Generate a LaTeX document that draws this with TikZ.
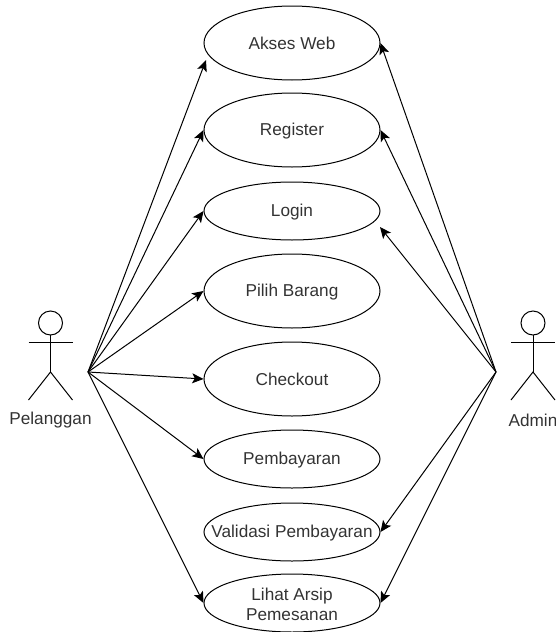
\documentclass[tikz,border=0pt]{standalone}
\usepackage{fontspec}
\setmainfont{Liberation Sans}
\usetikzlibrary{arrows.meta,shapes.geometric,calc}
\definecolor{txt}{HTML}{333333}
\tikzset{
  x=0.75pt,y=-0.75pt,
  usecase/.style={draw=black,ellipse,line width=0.75pt,minimum width=132pt,inner sep=0pt},
  uctext/.style={inner sep=0pt,align=center,font=\fontsize{12.9}{15}\selectfont,text=txt},
  dropped/.style={yshift=-1.1pt},
  tall/.style={minimum height=55.5pt},
  flat/.style={minimum height=43.5pt},
  link/.style={draw=black,line width=0.75pt,-{Stealth[length=8.5pt,width=7.5pt,inset=2pt]}},
  actorline/.style={draw=black,line width=0.75pt},
  actorname/.style={font=\fontsize{12.9}{15}\selectfont,text=txt,inner sep=0pt}
}
\begin{document}
\begin{tikzpicture}
\useasboundingbox (0,0) rectangle (556,632);
\node[usecase,tall] (web) at (292,43) {};
\node[uctext] (webt) at (web) {Akses Web};
\node[usecase,tall] (reg) at (292,130) {};
\node[uctext,dropped] (regt) at (reg) {Register};
\node[usecase,flat] (log) at (292,211) {};
\node[uctext,dropped] (logt) at (log) {Login};
\node[usecase,tall] (pil) at (292,291) {};
\node[uctext,dropped] (pilt) at (pil) {Pilih Barang};
\node[usecase,tall] (chk) at (292,379) {};
\node[uctext] (chkt) at (chk) {Checkout};
\node[usecase,flat] (pem) at (292,459) {};
\node[uctext,dropped] (pemt) at (pem) {Pembayaran};
\node[usecase,flat] (val) at (292,532) {};
\node[uctext,dropped] (valt) at (val) {Validasi Pembayaran};
\node[usecase,flat] (arc) at (292,603) {};
\node[uctext,dropped] (arct) at (arc) {Lihat Arsip\\Pemesanan};
% actors
\coordinate (pelhip) at (50.5,372);
\coordinate (admhip) at (533,372);
\foreach \c in {pelhip,admhip}{
  \draw[actorline] ($(\c)+(0,-49)$) circle (12);
  \draw[actorline] ($(\c)+(0,-37)$) -- (\c);
  \draw[actorline] ($(\c)+(-22,-30)$) -- ($(\c)+(22,-30)$);
  \draw[actorline] ($(\c)+(-22,28)$) -- (\c) -- ($(\c)+(22,28)$);
}
\node[actorname] (pelname) at (50.5,420) {Pelanggan};
\node[actorname] (admname) at (533,420) {Admin};
\coordinate (pel) at (88,372);
\coordinate (adm) at (496,372);
\coordinate (logR) at (380,227);
\coordinate (webL) at (206,60);
% connectors
\draw[link] (pel) -- (webL);
\draw[link] (pel) -- (reg.west);
\draw[link] (pel) -- (log.west);
\draw[link] (pel) -- (pil.west);
\draw[link] (pel) -- (chk.west);
\draw[link] (pel) -- (pem.west);
\draw[link] (pel) -- (arc.west);
\draw[link] (adm) -- (web.east);
\draw[link] (adm) -- (reg.east);
\draw[link] (adm) -- (logR);
\draw[link] (adm) -- (val.east);
\draw[link] (adm) -- (arc.east);
\end{tikzpicture}
\end{document}
